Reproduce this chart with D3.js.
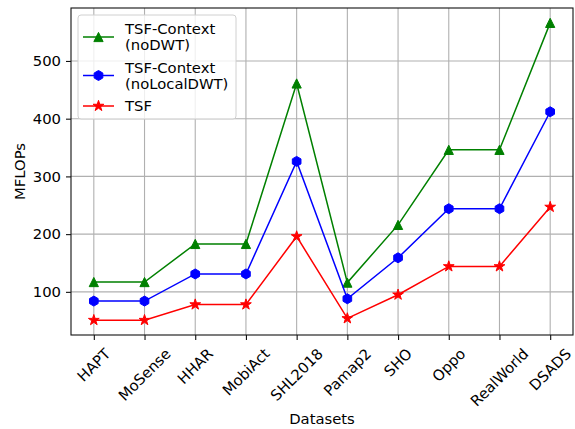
<!DOCTYPE html>
<html>
<head>
<meta charset="utf-8">
<script src="https://cdn.jsdelivr.net/npm/d3@7"></script>
<style>
  body { margin: 0; background: #fff; }
  text { font-family: "DejaVu Sans", sans-serif; fill: #000; }
</style>
</head>
<body>
<div id="chart"></div>
<script>
// data
var datasets = ["HAPT", "MoSense", "HHAR", "MobiAct", "SHL2018", "Pamap2", "SHO", "Oppo", "RealWorld", "DSADS"];
var noDWT = [117, 117, 183, 183, 461, 116, 216, 346, 346, 566];
var noLocalDWT = [84, 84, 131, 131, 326, 88, 159, 244, 244, 412];
var tsf = [51, 51, 78, 78, 196, 54, 95, 144, 144, 247];
var yTicks = [100, 200, 300, 400, 500];

var series = [
  {name: ["TSF-Context", "(noDWT)"], values: noDWT, color: "green", marker: "triangle"},
  {name: ["TSF-Context", "(noLocalDWT)"], values: noLocalDWT, color: "blue", marker: "hexagon"},
  {name: ["TSF"], values: tsf, color: "red", marker: "star"}
];

var width = 575, height = 429;
var margin = {top: 8, right: 2, bottom: 94, left: 71};
var fs = 14.8;

var svg = d3.select("#chart").append("svg")
  .attr("width", width)
  .attr("height", height);

var plotW = width - margin.left - margin.right,
    plotH = height - margin.top - margin.bottom;

var g = svg.append("g")
  .attr("transform", "translate(" + margin.left + "," + margin.top + ")");

// matplotlib style 5% margins
var x = d3.scaleLinear()
  .domain([-0.45, datasets.length - 1 + 0.45])
  .range([0, plotW]);

var all = noDWT.concat(noLocalDWT, tsf);
var lo = d3.min(all), hi = d3.max(all), pad = (hi - lo) * 0.05;
var y = d3.scaleLinear()
  .domain([lo - pad, hi + pad])
  .range([plotH, 0]);

// grid
g.append("g").selectAll("line").data(datasets).enter().append("line")
  .attr("x1", function(d, i) { return x(i); })
  .attr("x2", function(d, i) { return x(i); })
  .attr("y1", 0).attr("y2", plotH)
  .attr("stroke", "#b0b0b0").attr("stroke-width", 1.1);
g.append("g").selectAll("line").data(yTicks).enter().append("line")
  .attr("y1", function(d) { return y(d); })
  .attr("y2", function(d) { return y(d); })
  .attr("x1", 0).attr("x2", plotW)
  .attr("stroke", "#b0b0b0").attr("stroke-width", 1.1);

// y axis
var yAxis = g.append("g")
  .call(d3.axisLeft(y).tickValues(yTicks).tickSize(5).tickPadding(5).tickSizeOuter(0));
yAxis.attr("font-size", fs).attr("font-family", "DejaVu Sans");
yAxis.select(".domain").remove();
yAxis.selectAll("line").attr("stroke", "#111").attr("stroke-width", 1.1);
yAxis.selectAll("text").attr("fill", "#000");

// x axis ticks
var xAxis = g.append("g")
  .attr("transform", "translate(0," + plotH + ")")
  .call(d3.axisBottom(x).tickValues(d3.range(datasets.length)).tickSize(5).tickFormat(""));
xAxis.select(".domain").remove();
xAxis.selectAll("line").attr("stroke", "#111").attr("stroke-width", 1.1);

// rotated x labels, bbox centred on tick like matplotlib
var lh = fs * 1.164;
g.append("g").selectAll("text").data(datasets).enter().append("text")
  .style("font-size", fs + "px")
  .attr("text-anchor", "middle")
  .attr("dy", "0.35em")
  .text(function(d) { return d; })
  .attr("transform", function(d, i) {
    var w = this.getComputedTextLength();
    var b = (w + lh) / Math.SQRT2;
    return "translate(" + x(i) + "," + (plotH + 10 + b / 2) + ") rotate(-45)";
  });

// frame
g.append("rect")
  .attr("width", plotW).attr("height", plotH)
  .attr("fill", "none").attr("stroke", "#111").attr("stroke-width", 1.1);

// symbols
var triangle = {draw: function(ctx, size) {
  var r = Math.sqrt(size) / 2;
  ctx.moveTo(0, -r); ctx.lineTo(r, r); ctx.lineTo(-r, r); ctx.closePath();
}};
var hexagon = {draw: function(ctx, size) {
  var r = Math.sqrt(size) / 2;
  for (var k = 0; k < 6; k++) {
    var a = -Math.PI / 2 + k * Math.PI / 3;
    if (k == 0) ctx.moveTo(r * Math.cos(a), r * Math.sin(a));
    else ctx.lineTo(r * Math.cos(a), r * Math.sin(a));
  }
  ctx.closePath();
}};
var symbols = {
  triangle: d3.symbol().type(triangle).size(85),
  hexagon: d3.symbol().type(hexagon).size(100),
  star: d3.symbol().type(d3.symbolStar).size(36)
};

var line = d3.line()
  .x(function(d, i) { return x(i); })
  .y(function(d) { return y(d); });

series.forEach(function(s) {
  g.append("path")
    .datum(s.values)
    .attr("d", line)
    .attr("fill", "none")
    .attr("stroke", s.color)
    .attr("stroke-width", 1.5);
  g.append("g").selectAll("path").data(s.values).enter().append("path")
    .attr("d", symbols[s.marker])
    .attr("transform", function(d, i) { return "translate(" + x(i) + "," + y(d) + ")"; })
    .attr("fill", s.color)
    .attr("stroke", s.color);
});

// legend
var lg = svg.append("g").attr("transform", "translate(78,15)");
lg.append("rect")
  .attr("width", 158).attr("height", 104)
  .attr("rx", 3)
  .attr("fill", "#fff").attr("fill-opacity", 0.8)
  .attr("stroke", "#d0d0d0").attr("stroke-width", 1);

var rowY = 14, lineGap = 16, entryGap = 22.5;
series.forEach(function(s) {
  var n = s.name.length;
  var mid = rowY + (n - 1) * lineGap / 2;
  lg.append("line")
    .attr("x1", 5).attr("x2", 36)
    .attr("y1", mid).attr("y2", mid)
    .attr("stroke", s.color).attr("stroke-width", 1.5);
  lg.append("path")
    .attr("d", symbols[s.marker])
    .attr("transform", "translate(20.5," + mid + ")")
    .attr("fill", s.color).attr("stroke", s.color);
  s.name.forEach(function(t, k) {
    lg.append("text")
      .attr("x", 47)
      .attr("y", rowY + k * lineGap)
      .attr("dy", "0.35em")
      .style("font-size", fs + "px")
      .text(t);
  });
  rowY += (n - 1) * lineGap + entryGap;
});

// axis titles
svg.append("text")
  .attr("transform", "translate(20," + (margin.top + plotH / 2) + ") rotate(-90)")
  .attr("text-anchor", "middle")
  .attr("dy", "0.35em")
  .style("font-size", fs + "px")
  .text("MFLOPs");
svg.append("text")
  .attr("x", margin.left + plotW / 2)
  .attr("y", 419)
  .attr("text-anchor", "middle")
  .attr("dy", "0.35em")
  .style("font-size", fs + "px")
  .text("Datasets");
</script>
</body>
</html>
